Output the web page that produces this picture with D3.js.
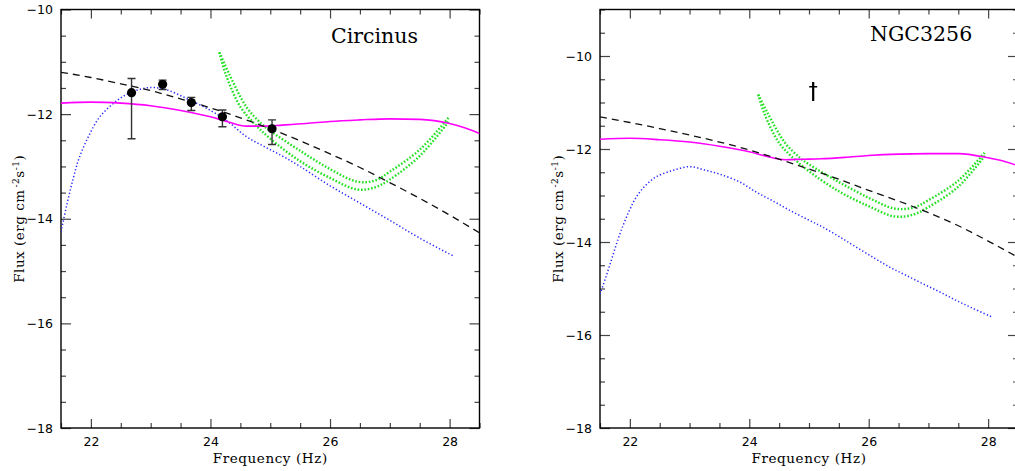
<!DOCTYPE html>
<html><head><meta charset="utf-8">
<script src="https://cdnjs.cloudflare.com/ajax/libs/d3/7.8.5/d3.min.js"></script>
<style>
html,body{margin:0;padding:0;background:#fff;}
svg{display:block;}
</style></head>
<body>
<svg id="chart" width="1015" height="471"></svg>
<script>
// ---------------- DATA ----------------
const xMajorTicks = [22, 24, 26, 28];
const xTickLabels = ["22", "24", "26", "28"];
const yMajorTicks = [-10, -12, -14, -16, -18];
const yTickLabels = ["\u221210", "\u221212", "\u221214", "\u221216", "\u221218"];
const xLabel = "Frequency (Hz)";

// Circinus
const circTitle = "Circinus";
const circPtsX   = [22.68, 23.20, 23.68, 24.20, 25.03];
const circPtsY   = [-11.59, -11.43, -11.78, -12.05, -12.28];
const circErrHi  = [-11.32, -11.35, -11.68, -11.92, -12.11];
const circErrLo  = [-12.47, -11.53, -11.93, -12.24, -12.58];

const circDashX = [21.5, 22.0, 22.5, 23.0, 23.5, 24.0, 24.5, 25.0, 25.5, 26.0, 26.5, 27.0, 27.5, 28.0, 28.5];
const circDashY = [-11.20, -11.30, -11.42, -11.55, -11.71, -11.88, -12.07, -12.28, -12.51, -12.76, -13.02, -13.31, -13.61, -13.93, -14.27];

const circMagX = [21.5, 22.0, 22.5, 23.0, 23.5, 24.0, 24.3, 24.6, 24.9, 25.2, 25.6, 26.0, 26.5, 27.0, 27.5, 28.0, 28.25, 28.5];
const circMagY = [-11.79, -11.77, -11.79, -11.84, -11.93, -12.05, -12.15, -12.23, -12.23, -12.21, -12.18, -12.14, -12.11, -12.09, -12.10, -12.18, -12.26, -12.37];

const circBlueX = [21.5, 21.6, 21.7, 21.8, 21.95, 22.15, 22.45, 22.7, 23.0, 23.25, 23.6, 24.0, 24.3, 24.6, 24.9, 25.2, 25.5, 26.0, 26.5, 27.0, 27.5, 28.06];
const circBlueY = [-14.25, -13.72, -13.25, -12.85, -12.45, -12.05, -11.73, -11.57, -11.49, -11.53, -11.70, -11.93, -12.15, -12.43, -12.62, -12.80, -13.00, -13.37, -13.70, -14.03, -14.37, -14.71];

const circGreenUX = [24.15, 24.3, 24.6, 24.85, 25.0, 25.5, 26.0, 26.45, 26.75, 27.0, 27.5, 27.98];
const circGreenUY = [-10.82, -11.20, -11.86, -12.18, -12.32, -12.70, -13.05, -13.29, -13.27, -13.10, -12.68, -12.07];
const circGreenLX = [24.15, 24.25, 24.5, 24.75, 25.0, 25.5, 26.0, 26.45, 26.75, 27.0, 27.5, 28.0];
const circGreenLY = [-10.82, -11.22, -11.86, -12.20, -12.47, -12.90, -13.22, -13.44, -13.40, -13.25, -12.80, -12.12];

// NGC3256
const ngcTitle = "NGC3256";
const ngcDaggerX = [25.07];
const ngcDaggerTop = [-10.56];
const ngcDaggerBar = [-10.66];
const ngcDaggerBottom = [-10.97];

const ngcDashX = [21.5, 22.0, 22.5, 23.0, 23.5, 24.0, 24.5, 25.0, 25.5, 26.0, 26.5, 27.0, 27.5, 28.0, 28.5];
const ngcDashY = [-11.31, -11.43, -11.56, -11.70, -11.85, -12.02, -12.22, -12.43, -12.65, -12.89, -13.12, -13.37, -13.65, -13.98, -14.33];

const ngcMagX = [21.5, 22.0, 22.5, 23.0, 23.5, 24.0, 24.3, 24.6, 24.9, 25.2, 25.6, 26.0, 26.5, 27.0, 27.5, 28.0, 28.25, 28.5];
const ngcMagY = [-11.79, -11.77, -11.80, -11.85, -11.94, -12.06, -12.16, -12.23, -12.22, -12.21, -12.18, -12.14, -12.11, -12.10, -12.10, -12.19, -12.26, -12.36];

const ngcBlueX = [21.5, 21.6, 21.7, 21.8, 21.9, 22.0, 22.1, 22.25, 22.44, 22.72, 23.0, 23.25, 23.5, 23.84, 24.12, 24.4, 24.68, 25.0, 25.23, 25.5, 25.79, 26.1, 26.35, 26.6, 26.91, 27.2, 27.47, 27.75, 28.06];
const ngcBlueY = [-15.12, -14.75, -14.35, -13.95, -13.60, -13.30, -13.05, -12.80, -12.60, -12.46, -12.38, -12.45, -12.54, -12.71, -12.93, -13.12, -13.32, -13.53, -13.68, -13.88, -14.11, -14.35, -14.54, -14.70, -14.90, -15.08, -15.26, -15.43, -15.61];

const ngcGreenUX = [24.15, 24.3, 24.6, 24.85, 25.0, 25.5, 26.0, 26.43, 26.75, 27.0, 27.5, 27.94];
const ngcGreenUY = [-10.83, -11.21, -11.87, -12.19, -12.33, -12.71, -13.05, -13.28, -13.26, -13.10, -12.68, -12.08];
const ngcGreenLX = [24.15, 24.25, 24.5, 24.75, 25.0, 25.5, 26.0, 26.43, 26.75, 27.0, 27.5, 27.96];
const ngcGreenLY = [-10.83, -11.23, -11.87, -12.21, -12.48, -12.91, -13.23, -13.45, -13.41, -13.25, -12.81, -12.12];

// ---------------- DRAW ----------------
const svg = d3.select("#chart");
const zip = (xs, ys) => xs.map((x, i) => [x, ys[i]]);

const panels = [
  {
    id: "circ", left: 61, right: 479.5, top: 9.5, bottom: 428,
    xDomain: [21.5, 28.5], yDomain: [-18, -10],
    title: circTitle, titleDx: 270, titleY: 43.3,
    ylabX: 19,
    dash: zip(circDashX, circDashY), mag: zip(circMagX, circMagY), blue: zip(circBlueX, circBlueY),
    greenU: zip(circGreenUX, circGreenUY), greenL: zip(circGreenLX, circGreenLY),
    pts: circPtsX.map((x, i) => ({x, y: circPtsY[i], hi: circErrHi[i], lo: circErrLo[i]})),
    dagger: []
  },
  {
    id: "ngc", left: 600, right: 1018, top: 9.5, bottom: 428,
    xDomain: [21.5, 28.5], yDomain: [-18, -9],
    title: ngcTitle, titleDx: 270, titleY: 40.7,
    ylabX: 558,
    dash: zip(ngcDashX, ngcDashY), mag: zip(ngcMagX, ngcMagY), blue: zip(ngcBlueX, ngcBlueY),
    greenU: zip(ngcGreenUX, ngcGreenUY), greenL: zip(ngcGreenLX, ngcGreenLY),
    pts: [],
    dagger: ngcDaggerX.map((x, i) => ({x, top: ngcDaggerTop[i], bar: ngcDaggerBar[i], bottom: ngcDaggerBottom[i]}))
  }
];

panels.forEach(p => {
  const x = d3.scaleLinear().domain(p.xDomain).range([p.left, p.right]);
  const y = d3.scaleLinear().domain(p.yDomain).range([p.bottom, p.top]);
  const g = svg.append("g");

  g.append("clipPath").attr("id", "clip-" + p.id)
    .append("rect").attr("x", p.left).attr("y", p.top)
    .attr("width", p.right - p.left).attr("height", p.bottom - p.top);

  const xMinor = d3.range(p.xDomain[0], p.xDomain[1] + 0.001, 0.5).filter(v => !xMajorTicks.includes(v));
  const yMinor = d3.range(p.yDomain[0], p.yDomain[1] + 0.001, 0.5).filter(v => !yMajorTicks.includes(v));

  const tickColor = "#444";
  const styleAxis = sel => {
    sel.select(".domain").remove();
    sel.selectAll(".tick line").attr("stroke", tickColor).attr("stroke-width", 1.2);
  };

  // bottom
  g.append("g").attr("transform", `translate(0,${p.bottom})`)
    .call(d3.axisBottom(x).tickValues(xMajorTicks).tickSize(-9).tickPadding(9)
      .tickFormat((d, i) => xTickLabels[i]))
    .call(styleAxis)
    .selectAll("text").attr("font-family", "DejaVu Sans").attr("font-size", 12.5).attr("fill", "#000");
  g.append("g").attr("transform", `translate(0,${p.bottom})`)
    .call(d3.axisBottom(x).tickValues(xMinor).tickSize(-5).tickFormat(""))
    .call(styleAxis);
  // top
  g.append("g").attr("transform", `translate(0,${p.top})`)
    .call(d3.axisTop(x).tickValues(xMajorTicks).tickSize(-9).tickFormat(""))
    .call(styleAxis);
  g.append("g").attr("transform", `translate(0,${p.top})`)
    .call(d3.axisTop(x).tickValues(xMinor).tickSize(-5).tickFormat(""))
    .call(styleAxis);
  // left
  g.append("g").attr("transform", `translate(${p.left},0)`)
    .call(d3.axisLeft(y).tickValues(yMajorTicks).tickSize(-10).tickPadding(8)
      .tickFormat((d, i) => yTickLabels[i]))
    .call(styleAxis)
    .selectAll("text").attr("font-family", "DejaVu Sans").attr("font-size", 12.5).attr("fill", "#000");
  g.append("g").attr("transform", `translate(${p.left},0)`)
    .call(d3.axisLeft(y).tickValues(yMinor).tickSize(-5).tickFormat(""))
    .call(styleAxis);
  // right
  g.append("g").attr("transform", `translate(${p.right},0)`)
    .call(d3.axisRight(y).tickValues(yMajorTicks).tickSize(-10).tickFormat(""))
    .call(styleAxis);
  g.append("g").attr("transform", `translate(${p.right},0)`)
    .call(d3.axisRight(y).tickValues(yMinor).tickSize(-5).tickFormat(""))
    .call(styleAxis);

  // frame
  g.append("rect").attr("x", p.left).attr("y", p.top)
    .attr("width", p.right - p.left).attr("height", p.bottom - p.top)
    .attr("fill", "none").attr("stroke", "#000").attr("stroke-width", 1.4);

  const plot = g.append("g").attr("clip-path", `url(#clip-${p.id})`);
  const line = d3.line().x(d => x(d[0])).y(d => y(d[1])).curve(d3.curveMonotoneX);
  const lineN = d3.line().x(d => x(d[0])).y(d => y(d[1])).curve(d3.curveCatmullRom.alpha(0.5));

  // blue dotted
  plot.append("path").attr("d", lineN(p.blue)).attr("fill", "none")
    .attr("stroke", "#2a2aff").attr("stroke-width", 1.5).attr("stroke-dasharray", "1.3,2.2");
  // green dotted (two thick dotted curves)
  [p.greenU, p.greenL].forEach(c => {
    plot.append("path").attr("d", lineN(c)).attr("fill", "none")
      .attr("stroke", "#22e022").attr("stroke-width", 2.4).attr("stroke-dasharray", "1.6,1.8");
  });
  // magenta solid
  plot.append("path").attr("d", line(p.mag)).attr("fill", "none")
    .attr("stroke", "#ff00ff").attr("stroke-width", 1.6);
  // black dashed
  plot.append("path").attr("d", line(p.dash)).attr("fill", "none")
    .attr("stroke", "#111").attr("stroke-width", 1.3).attr("stroke-dasharray", "7,5");

  // error bars and points
  const eb = plot.selectAll(".eb").data(p.pts).enter().append("g");
  eb.append("line").attr("x1", d => x(d.x)).attr("x2", d => x(d.x))
    .attr("y1", d => y(d.hi)).attr("y2", d => y(d.lo)).attr("stroke", "#333").attr("stroke-width", 1.4);
  eb.append("line").attr("x1", d => x(d.x) - 4).attr("x2", d => x(d.x) + 4)
    .attr("y1", d => y(d.hi)).attr("y2", d => y(d.hi)).attr("stroke", "#333").attr("stroke-width", 1.4);
  eb.append("line").attr("x1", d => x(d.x) - 4).attr("x2", d => x(d.x) + 4)
    .attr("y1", d => y(d.lo)).attr("y2", d => y(d.lo)).attr("stroke", "#333").attr("stroke-width", 1.4);
  eb.append("circle").attr("cx", d => x(d.x)).attr("cy", d => y(d.y)).attr("r", 4.6).attr("fill", "#000");

  // dagger marker
  const dg = plot.selectAll(".dg").data(p.dagger).enter().append("g");
  dg.append("line").attr("x1", d => x(d.x)).attr("x2", d => x(d.x))
    .attr("y1", d => y(d.top)).attr("y2", d => y(d.bottom)).attr("stroke", "#000").attr("stroke-width", 2.2);
  dg.append("line").attr("x1", d => x(d.x) - 4).attr("x2", d => x(d.x) + 4)
    .attr("y1", d => y(d.bar)).attr("y2", d => y(d.bar)).attr("stroke", "#000").attr("stroke-width", 1.5);

  // title
  g.append("text").attr("x", p.left + p.titleDx).attr("y", p.titleY)
    .attr("font-family", "DejaVu Serif").attr("font-size", 20.5).attr("fill", "#000")
    .text(p.title);

  // x label
  g.append("text").attr("x", (p.left + Math.min(p.right, 1018)) / 2).attr("y", 463)
    .attr("text-anchor", "middle").attr("font-family", "DejaVu Serif").attr("font-size", 13.5)
    .attr("letter-spacing", 0.6).attr("fill", "#000").text(xLabel);

  // y label
  const cy = (p.top + p.bottom) / 2;
  const yl = g.append("text").attr("transform", `translate(${p.ylabX + 5},${cy}) rotate(-90)`)
    .attr("text-anchor", "middle").attr("font-family", "DejaVu Serif").attr("font-size", 13.5)
    .attr("letter-spacing", 0.5).attr("fill", "#000");
  yl.append("tspan").text("Flux (erg cm");
  yl.append("tspan").attr("dx", 2).attr("dy", -5).attr("font-size", 9).text("-2");
  yl.append("tspan").attr("dy", 5).text("s");
  yl.append("tspan").attr("dy", -5).attr("font-size", 9).text("-1");
  yl.append("tspan").attr("dy", 5).text(")");
});
</script>
</body></html>
